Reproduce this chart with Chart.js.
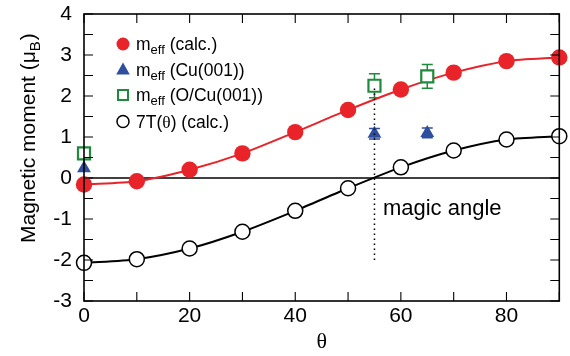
<!DOCTYPE html>
<html><head><meta charset="utf-8">
<script src="https://cdn.jsdelivr.net/npm/chart.js@4/dist/chart.umd.min.js"></script>
<style>html,body{margin:0;padding:0;background:#fff}</style>
</head><body>
<canvas id="c" width="570" height="356"></canvas>
<script>
// ---- data ----
const theta = [0, 10, 20, 30, 40, 50, 60, 70, 80, 90];
const mEffCalc = [-0.16, -0.08, 0.20, 0.60, 1.12, 1.66, 2.16, 2.57, 2.85, 2.94];
const sevenT = [-2.07, -1.98, -1.72, -1.31, -0.80, -0.25, 0.26, 0.67, 0.94, 1.02];
const expTheta = [0, 55, 65];
const mEffCu = [0.24, 1.08, 1.10];
const mEffCuErr = [0, 0.13, 0.12];
const mEffOCu = [0.60, 2.25, 2.48];
const mEffOCuErr = [0, 0.29, 0.29];
const xTickLabels = [0, 20, 40, 60, 80];
const yTickLabels = [-3, -2, -1, 0, 1, 2, 3, 4];
const magicTheta = 55;
const magicRange = [-2, 2.25];
const magicLabel = {text: 'magic angle', x: 56.6, y: -0.9};

const RED = '#e8232a', BLUE = '#2f4e9e', GREEN = '#1f8a3c';
const SANS = '"Liberation Sans", Arial, Helvetica, sans-serif';
const SERIF = '"Liberation Serif", "Times New Roman", serif';

const pts = (xs, ys) => xs.map((x, i) => ({x, y: ys[i]}));

const decor = {
  id: 'decor',
  beforeDatasetsDraw(chart) {
    const {ctx, chartArea: a, scales: {x, y}} = chart;
    ctx.save();
    // zero line
    ctx.strokeStyle = '#000'; ctx.lineWidth = 1.5;
    ctx.beginPath();
    ctx.moveTo(a.left, y.getPixelForValue(0)); ctx.lineTo(a.right, y.getPixelForValue(0));
    ctx.stroke();
    // error bars
    const bars = (vals, errs, color) => {
      ctx.strokeStyle = color; ctx.lineWidth = 1.5;
      expTheta.forEach((t, i) => {
        if (!errs[i]) return;
        const px = x.getPixelForValue(t);
        const y1 = y.getPixelForValue(vals[i] + errs[i]);
        const y2 = y.getPixelForValue(vals[i] - errs[i]);
        ctx.beginPath();
        ctx.moveTo(px, y1); ctx.lineTo(px, y2);
        ctx.moveTo(px - 5.5, y1); ctx.lineTo(px + 5.5, y1);
        ctx.moveTo(px - 5.5, y2); ctx.lineTo(px + 5.5, y2);
        ctx.stroke();
      });
    };
    bars(mEffOCu, mEffOCuErr, GREEN);
    bars(mEffCu, mEffCuErr, BLUE);
    ctx.restore();
  },
  afterDatasetsDraw(chart) {
    const {ctx, chartArea: a, scales: {x, y}} = chart;
    ctx.save();
    // dotted magic angle line
    ctx.strokeStyle = '#000'; ctx.lineWidth = 1.5; ctx.setLineDash([1.5, 3.5]);
    const mx = x.getPixelForValue(magicTheta);
    ctx.beginPath();
    ctx.moveTo(mx, y.getPixelForValue(magicRange[0]));
    ctx.lineTo(mx, y.getPixelForValue(magicRange[1]));
    ctx.stroke();
    ctx.setLineDash([]);
    // frame
    ctx.lineWidth = 1.6;
    ctx.strokeRect(a.left, a.top, a.right - a.left, a.bottom - a.top);
    // inward ticks
    const L = 9;
    ctx.lineWidth = 1.1;
    ctx.beginPath();
    for (let v = x.min; v <= x.max + 1e-9; v += 10) {
      const px = x.getPixelForValue(v);
      ctx.moveTo(px, a.bottom); ctx.lineTo(px, a.bottom - L);
      ctx.moveTo(px, a.top); ctx.lineTo(px, a.top + L);
    }
    for (let v = y.min; v <= y.max + 1e-9; v += 0.5) {
      const py = y.getPixelForValue(v);
      ctx.moveTo(a.left, py); ctx.lineTo(a.left + L, py);
      ctx.moveTo(a.right, py); ctx.lineTo(a.right - L, py);
    }
    ctx.stroke();
    // magic angle label
    ctx.fillStyle = '#000';
    ctx.font = '22px ' + SANS;
    ctx.textAlign = 'left'; ctx.textBaseline = 'alphabetic';
    ctx.fillText(magicLabel.text, x.getPixelForValue(magicLabel.x), y.getPixelForValue(magicLabel.y));
    // x title
    ctx.font = '22px ' + SERIF;
    ctx.textAlign = 'center';
    ctx.fillText('θ', (a.left + a.right) / 2, 348);
    // y title
    ctx.save();
    ctx.translate(35, 243);
    ctx.rotate(-Math.PI / 2);
    ctx.textAlign = 'left';
    ctx.font = '21px ' + SANS;
    let s1 = 'Magnetic moment (μ';
    ctx.fillText(s1, 0, 0);
    let w = ctx.measureText(s1).width;
    ctx.font = '15px ' + SANS;
    ctx.fillText('B', w, 5);
    w += ctx.measureText('B').width + 1;
    ctx.font = '21px ' + SANS;
    ctx.fillText(')', w, 0);
    ctx.restore();
    // legend
    const lx = 123, tx = 136, rows = [44, 69.5, 95, 121.5];
    const sub = (row, rest) => {
      const by = rows[row] + 6;
      ctx.textAlign = 'left';
      ctx.font = '17.5px ' + SANS;
      ctx.fillText('m', tx, by);
      let ww = tx + ctx.measureText('m').width;
      ctx.font = '13px ' + SANS;
      ctx.fillText('eff', ww, by + 4);
      ww += ctx.measureText('eff').width;
      ctx.font = '17.5px ' + SANS;
      ctx.fillText(rest, ww, by);
    };
    // marker 1: red circle
    ctx.fillStyle = RED;
    ctx.beginPath(); ctx.arc(lx, rows[0], 6.5, 0, Math.PI * 2); ctx.fill();
    // marker 2: blue triangle
    ctx.fillStyle = BLUE;
    ctx.beginPath();
    ctx.moveTo(lx, rows[1] - 7); ctx.lineTo(lx + 6.8, rows[1] + 5); ctx.lineTo(lx - 6.8, rows[1] + 5);
    ctx.closePath(); ctx.fill();
    // marker 3: green square
    ctx.strokeStyle = GREEN; ctx.lineWidth = 2;
    ctx.strokeRect(lx - 5, rows[2] - 5, 10, 10);
    // marker 4: open circle
    ctx.strokeStyle = '#000'; ctx.lineWidth = 1.5; ctx.fillStyle = '#fff';
    ctx.beginPath(); ctx.arc(lx, rows[3], 6, 0, Math.PI * 2); ctx.fill(); ctx.stroke();
    ctx.fillStyle = '#000';
    sub(0, ' (calc.)');
    sub(1, ' (Cu(001))');
    sub(2, ' (O/Cu(001))');
    // 7T(θ) (calc.)
    const by4 = rows[3] + 6;
    ctx.font = '17.5px ' + SANS;
    ctx.fillText('7T(', tx, by4);
    let w4 = tx + ctx.measureText('7T(').width;
    ctx.font = '17.5px ' + SERIF;
    ctx.fillText('θ', w4, by4);
    w4 += ctx.measureText('θ').width;
    ctx.font = '17.5px ' + SANS;
    ctx.fillText(') (calc.)', w4, by4);
    ctx.restore();
  }
};

new Chart(document.getElementById('c'), {
  type: 'scatter',
  data: {
    datasets: [
      {label: 'meff (calc.)', data: pts(theta, mEffCalc), showLine: true, clip: false,
       borderColor: RED, borderWidth: 2, backgroundColor: RED, pointBackgroundColor: RED,
       pointBorderWidth: 0, pointRadius: 8.2, tension: 0.25, order: 2},
      {label: '7T(θ) (calc.)', data: pts(theta, sevenT), showLine: true, clip: false,
       borderColor: '#000', borderWidth: 2, pointBackgroundColor: '#fff', pointBorderColor: '#000',
       pointBorderWidth: 1.5, pointRadius: 7.5, tension: 0.25, order: 3},
      {label: 'meff (Cu(001))', data: pts(expTheta, mEffCu), showLine: false, clip: false,
       pointStyle: 'triangle', pointRadius: 8, pointBackgroundColor: BLUE, pointBorderColor: BLUE,
       pointBorderWidth: 0, order: 1},
      {label: 'meff (O/Cu(001))', data: pts(expTheta, mEffOCu), showLine: false, clip: false,
       pointStyle: 'rect', pointRadius: 8.5, pointBackgroundColor: '#fff', pointBorderColor: GREEN,
       pointBorderWidth: 2.2, order: 0}
    ]
  },
  options: {
    responsive: false, animation: false, devicePixelRatio: 1,
    layout: {padding: {left: 0, top: 14, right: 7, bottom: 0}},
    plugins: {legend: {display: false}, tooltip: {enabled: false}},
    scales: {
      x: {type: 'linear', min: 0, max: 90,
          afterBuildTicks: s => { s.ticks = xTickLabels.map(v => ({value: v})); },
          afterFit: s => { s.height = 55; s.paddingLeft = 0; s.paddingRight = 0; s.paddingTop = 0; s.paddingBottom = 0; },
          grid: {display: false, drawTicks: false}, border: {display: false},
          ticks: {padding: 3, color: '#000', font: {family: SANS, size: 21}, maxRotation: 0}},
      y: {type: 'linear', min: -3, max: 4,
          afterBuildTicks: s => { s.ticks = yTickLabels.map(v => ({value: v})); },
          afterFit: s => { s.width = 84; s.paddingLeft = 0; s.paddingRight = 0; s.paddingTop = 0; s.paddingBottom = 0; },
          grid: {display: false, drawTicks: false}, border: {display: false},
          ticks: {padding: 12, color: '#000', font: {family: SANS, size: 21}}}
    }
  },
  plugins: [decor]
});
</script>
</body></html>
